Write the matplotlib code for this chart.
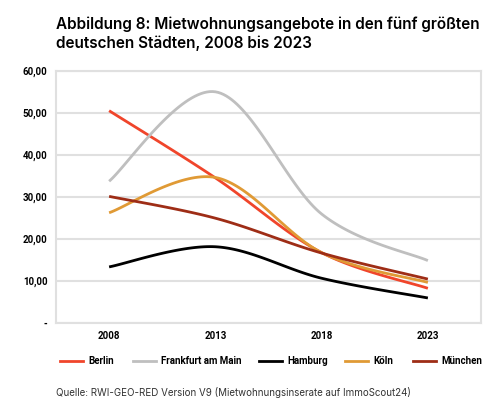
import numpy as np
import matplotlib
matplotlib.use("Agg")
import matplotlib.pyplot as plt
from matplotlib.lines import Line2D

years = ["2008", "2013", "2018", "2023"]
berlin = [50.5, 34.5, 16.7, 8.2]
frankfurt = [33.7, 55.0, 25.9, 14.8]
hamburg = [13.3, 18.1, 10.6, 5.9]
koeln = [26.2, 34.6, 16.7, 9.6]
muenchen = [30.1, 24.9, 16.6, 10.4]

series_names = ["Berlin", "Frankfurt am Main", "Hamburg", "Köln", "München"]
series_values = [berlin, frankfurt, hamburg, koeln, muenchen]
colors = ["#f0452b", "#bfbfbf", "#000000", "#e09a35", "#9e2d16"]
y_ticks = [0, 10, 20, 30, 40, 50, 60]
y_tick_labels = ["-", "10,00", "20,00", "30,00", "40,00", "50,00", "60,00"]

cond = ["Roboto", "DejaVu Sans"]


def smooth(xs, ys, n=40):
    # Excel-style smoothed line: Catmull-Rom Bezier segments through the points
    pts = np.column_stack([xs, ys]).astype(float)
    out = []
    m = len(pts)
    for i in range(m - 1):
        p0 = pts[i - 1] if i > 0 else pts[i]
        p1 = pts[i]
        p2 = pts[i + 1]
        p3 = pts[i + 2] if i + 2 < m else pts[i + 1]
        c1 = p1 + (p2 - p0) / 6.0
        c2 = p2 - (p3 - p1) / 6.0
        t = np.linspace(0, 1, n)[:, None]
        seg = ((1 - t) ** 3) * p1 + 3 * ((1 - t) ** 2) * t * c1 + 3 * (1 - t) * t ** 2 * c2 + t ** 3 * p2
        if i > 0:
            seg = seg[1:]
        out.append(seg)
    out = np.vstack(out)
    return out[:, 0], out[:, 1]


W, H = 500, 407
fig = plt.figure(figsize=(W / 100, H / 100), dpi=100)
ax = fig.add_axes([0.112, 0.207, 0.85, 0.619])

x = np.arange(len(years))
for name, vals, c in zip(series_names, series_values, colors):
    sx, sy = smooth(x, vals)
    ax.plot(sx, sy, color=c, lw=2.0, solid_capstyle="butt", zorder=3)

ax.set_xlim(-0.5, len(years) - 0.5)
ax.set_ylim(0, 60)
ax.set_yticks(y_ticks)
ax.set_yticklabels(y_tick_labels)
ax.set_xticks(x)
ax.set_xticklabels(years)
for lab in ax.get_xticklabels() + ax.get_yticklabels():
    lab.set_family(cond)
    lab.set_fontweight("bold")
    lab.set_fontsize(7)
ax.tick_params(axis="both", length=0, pad=6)
ax.grid(axis="y", color="#e0e0e0", lw=1.5, zorder=0)
for sp in ax.spines.values():
    sp.set_color("#e0e0e0")
    sp.set_linewidth(1.5)

fig.text(0.112, 1 - 51 / H, "Abbildung 8: Mietwohnungsangebote in den fünf größten\ndeutschen Städten, 2008 bis 2023",
         family=["Inter", "DejaVu Sans"], fontweight="semibold", fontsize=11, va="bottom", ha="left",
         linespacing=1.3)

# legend, placed item by item
leg_x = [60, 133, 259, 345, 413]
leg_y = 1 - 361 / H
for px, name, c in zip(leg_x, series_names, colors):
    fig.add_artist(Line2D([px / W, (px + 23) / W], [leg_y, leg_y], color=c, lw=2,
                          transform=fig.transFigure))
    fig.text((px + 28) / W, leg_y, name, family=cond, fontweight="bold", fontsize=7,
             va="center", ha="left")

fig.text(0.112, 1 - 392 / H, "Quelle: RWI-GEO-RED Version V9 (Mietwohnungsinserate auf ImmoScout24)",
         family=["Inter", "DejaVu Sans"], fontsize=7, color="#333333", va="center", ha="left")

fig.savefig("out.png", dpi=100)
